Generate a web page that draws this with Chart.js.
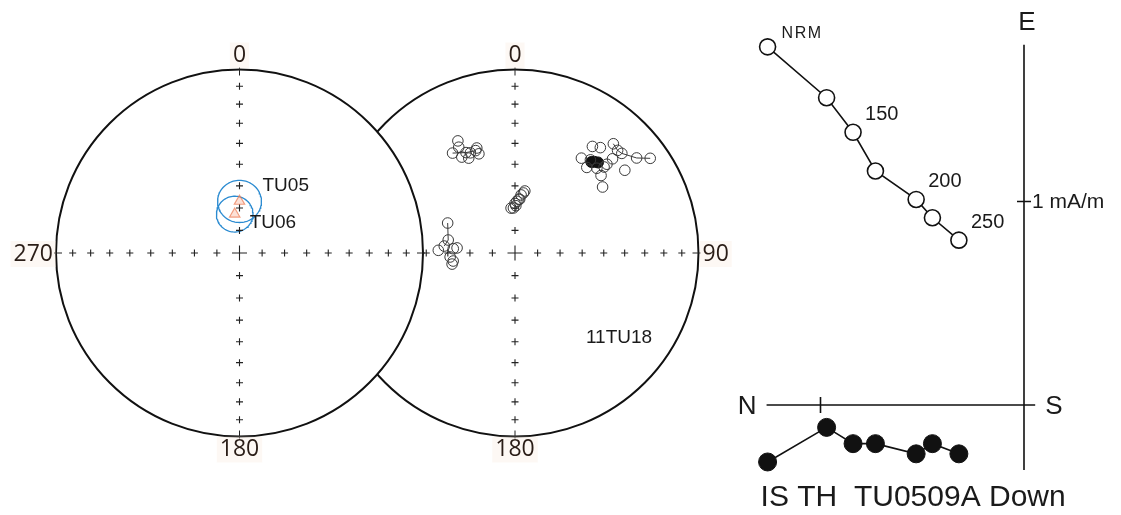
<!DOCTYPE html>
<html>
<head>
<meta charset="utf-8">
<script src="https://cdn.jsdelivr.net/npm/chart.js@4.4.1/dist/chart.umd.min.js"></script>
<style>
  html, body { margin: 0; padding: 0; background: #fff; }
  body { width: 1121px; height: 515px; position: relative; overflow: hidden; }
  .panel { position: absolute; }
  .panel canvas { display: block; }
</style>
</head>
<body>
<div class="panel" id="netB"><canvas id="cB"></canvas></div>
<div class="panel" id="netA"><canvas id="cA"></canvas></div>
<div class="panel" id="zij"><canvas id="cZ"></canvas></div>
<script>
// ---------- stereonet grid ----------
const netCardinals = ['0', '90', '180', '270'];
const netTickInc = [80, 70, 60, 50, 40, 30, 20, 10];

// ---------- site means (left net) ----------
const siteNames = ['TU05', 'TU06'];
const siteDec = [0, 353];
const siteInc = [67, 72.6];
const siteA95 = [9.5, 8];

// ---------- specimen directions (right net) ----------
// negative inclination = upper hemisphere (open symbol)
const specimenLabel = '11TU18';
const nwDec = [333, 328, 331, 336, 340, 340, 339, 334, 332, 334];
const nwInc = [-32, -36, -40, -40, -39, -42, -40, -39, -35, -42];
const ctrDec = [358, 0, 2, 4, 6, 8, 9, 1, 5, 355];
const ctrInc = [-70, -68, -67, -66, -64, -63, -62, -69, -66, -70];
const neDec = [36, 39, 42, 45, 47, 52, 55, 53, 35, 40, 48, 53, 46, 46, 39, 44, 46];
const neInc = [-29, -27, -21, -22, -21.5, -17, -11, -26, -37, -39, -37, -40, -31, -27, -35, -36, -33];
const wDec = [294, 281, 272, 274, 266.5, 262.6, 275, 275.6, 260];
const wInc = [-57, -59.6, -55.6, -62.4, -61, -62.2, -64.1, -58.2, -61.5];
const downDec = [41, 42.5, 40];
const downInc = [34.5, 33.5, 35.5];
// demagnetisation paths (indices into the cluster arrays)
const nwPath = [1, 7, 6];
const nePath = [2, 3, 4, 5, 6];
const wPath = [0, 1, 7];

// ---------- orthogonal (Zijderveld) plot, mA/m ----------
const zSteps = ['NRM', '', '150', '', '200', '', '250'];
const zNorth = [1.26, 0.97, 0.84, 0.73, 0.53, 0.45, 0.32];
const zEast = [1.76, 1.51, 1.34, 1.15, 1.01, 0.92, 0.81];
const zDown = [0.28, 0.11, 0.19, 0.19, 0.24, 0.19, 0.24];
const zScaleTick = 1;
const zScaleLabel = '1 mA/m';
const zTitle = 'IS TH  TU0509A Down';

// ---------- projection helpers ----------
const RAD = Math.PI / 180;
function equalArea(dec, inc) {
  const r = Math.SQRT2 * Math.sin((90 - Math.abs(inc)) * RAD / 2);
  return { x: r * Math.sin(dec * RAD), y: r * Math.cos(dec * RAD) };
}
// outline of the cone of confidence around a mean direction
function coneOutline(dec, inc, a95) {
  const D = dec * RAD, I = inc * RAD, A = a95 * RAD;
  const m = [Math.cos(I) * Math.cos(D), Math.cos(I) * Math.sin(D), Math.sin(I)];
  const u = [-Math.sin(I) * Math.cos(D), -Math.sin(I) * Math.sin(D), Math.cos(I)];
  const v = [-Math.sin(D), Math.cos(D), 0];
  const pts = [];
  for (let t = 0; t <= 360; t += 4) {
    const c = Math.cos(t * RAD), s = Math.sin(t * RAD);
    const p = [0, 1, 2].map(k => Math.cos(A) * m[k] + Math.sin(A) * (c * u[k] + s * v[k]));
    pts.push(equalArea(Math.atan2(p[1], p[0]) / RAD, Math.asin(p[2]) / RAD));
  }
  return pts;
}
const project = (decs, incs) => decs.map((d, i) => equalArea(d, incs[i]));
const pathOf = (decs, incs, idx) => idx.map(i => equalArea(decs[i], incs[i]));

const tickPts = [];
netCardinals.forEach((_, k) => netTickInc.forEach(inc => tickPts.push(equalArea(k * 90, inc))));

// ---------- stereonet frame plugin ----------
const netFrame = {
  id: 'netFrame',
  beforeDatasetsDraw(chart, args, o) {
    const { ctx, scales: { x, y } } = chart;
    const cx = x.getPixelForValue(0), cy = y.getPixelForValue(0);
    const R = x.getPixelForValue(1) - cx;
    ctx.save();
    ctx.beginPath();
    ctx.arc(cx, cy, R, 0, 2 * Math.PI);
    ctx.fillStyle = '#fff';
    ctx.fill();
    ctx.lineWidth = 2;
    ctx.strokeStyle = '#111';
    ctx.stroke();
    // rim ticks on the cardinal directions
    ctx.lineWidth = 1;
    ctx.strokeStyle = '#222';
    ctx.beginPath();
    netCardinals.forEach((_, k) => {
      const a = k * 90 * RAD, sx = Math.sin(a), sy = -Math.cos(a);
      ctx.moveTo(cx + sx * (R + 2), cy + sy * (R + 2));
      ctx.lineTo(cx + sx * (R - 6), cy + sy * (R - 6));
    });
    ctx.stroke();
    // cardinal labels
    ctx.font = '23px "Open Sans", sans-serif';
    ctx.textBaseline = 'middle';
    netCardinals.forEach((lab, k) => {
      if (!o.show.includes(lab)) return;
      let tx, ty, align;
      if (k === 0) { tx = cx; ty = cy - R - 14; align = 'center'; }
      else if (k === 1) { tx = cx + R + 4; ty = cy + 1; align = 'left'; }
      else if (k === 2) { tx = cx; ty = cy + R + 13; align = 'center'; }
      else { tx = cx - R - 3; ty = cy + 1; align = 'right'; }
      ctx.textAlign = align;
      const w = ctx.measureText(lab).width;
      const bx = align === 'center' ? tx - w / 2 : (align === 'left' ? tx : tx - w);
      ctx.fillStyle = 'rgba(250,232,220,0.3)';
      ctx.fillRect(bx - 3, ty - 13, w + 6, 26);
      ctx.fillStyle = '#2a1d17';
      ctx.fillText(lab, tx, ty);
    });
    ctx.restore();
  },
  afterDatasetsDraw(chart, args, o) {
    const { ctx, scales: { x, y } } = chart;
    ctx.save();
    ctx.fillStyle = '#1a1a1a';
    ctx.textBaseline = 'middle';
    ctx.textAlign = 'left';
    (o.notes || []).forEach(n => {
      ctx.font = n.font;
      ctx.textAlign = n.align || 'left';
      ctx.fillText(n.text, x.getPixelForValue(n.x) + (n.dx || 0), y.getPixelForValue(n.y) + (n.dy || 0));
    });
    ctx.restore();
  }
};

function netChart(canvasId, box, datasets, frameOpts) {
  const cv = document.getElementById(canvasId);
  cv.width = box.w;
  cv.height = box.h;
  const p = cv.parentElement.style;
  p.left = box.left + 'px'; p.top = box.top + 'px';
  p.width = box.w + 'px'; p.height = box.h + 'px';
  return new Chart(cv, {
    type: 'scatter',
    data: { datasets },
    options: {
      responsive: false, animation: false, events: [],
      layout: { padding: 0, autoPadding: false },
      scales: {
        x: { type: 'linear', display: false,
             min: (box.left - box.cx) / box.R, max: (box.left + box.w - box.cx) / box.R },
        y: { type: 'linear', display: false,
             min: (box.cy - box.top - box.h) / box.R, max: (box.cy - box.top) / box.R }
      },
      plugins: { legend: { display: false }, tooltip: { enabled: false }, netFrame: frameOpts }
    },
    plugins: [netFrame]
  });
}

const gridSets = () => [
  { data: tickPts, pointStyle: 'cross', pointRadius: 3.5, borderColor: '#222', borderWidth: 1.1, clip: false },
  { data: [{ x: 0, y: 0 }], pointStyle: 'cross', pointRadius: 7.5, borderColor: '#222', borderWidth: 1.1, clip: false }
];
const openPts = (data) => ({
  data, pointStyle: 'circle', pointRadius: 5.3, backgroundColor: 'rgba(255,255,255,0)',
  borderColor: '#3a3a3a', borderWidth: 1, clip: false
});
const pathLine = (data) => ({
  data, showLine: true, pointRadius: 0, borderColor: '#3a3a3a', borderWidth: 1, clip: false
});

// right net: specimen directions
netChart('cB', { left: 280, top: 10, w: 480, h: 480, cx: 515, cy: 253, R: 183.5 }, [
  ...gridSets(),
  pathLine(pathOf(nwDec, nwInc, nwPath)),
  pathLine(pathOf(neDec, neInc, nePath)),
  pathLine(pathOf(wDec, wInc, wPath)),
  openPts(project(nwDec, nwInc)),
  openPts(project(ctrDec, ctrInc)),
  openPts(project(neDec, neInc)),
  openPts(project(wDec, wInc)),
  { data: project(downDec, downInc), pointStyle: 'circle', pointRadius: 5.5, backgroundColor: '#111',
    borderColor: '#111', borderWidth: 1, clip: false }
], {
  show: ['0', '90', '180'],
  notes: [{ text: specimenLabel, x: 0.567, y: -0.463, align: 'center', font: '19px "Liberation Sans", Arial, sans-serif' }]
});

// left net: site means with cones of confidence
const siteMeans = project(siteDec, siteInc);
netChart('cA', { left: 0, top: 10, w: 480, h: 480, cx: 239.5, cy: 253, R: 183.5 }, [
  ...gridSets(),
  { data: siteMeans, pointStyle: 'triangle', pointRadius: 6, backgroundColor: 'rgba(246,170,140,0.35)',
    borderColor: 'rgba(236,120,80,0.7)', borderWidth: 1.2, clip: false },
  ...siteNames.map((_, i) => ({
    data: coneOutline(siteDec[i], siteInc[i], siteA95[i]), showLine: true, pointRadius: 0,
    borderColor: '#2b8bd1', borderWidth: 1.3, clip: false
  }))
], {
  show: ['0', '180', '270'],
  notes: siteNames.map((name, i) => ({
    text: name, x: siteMeans[i].x, y: siteMeans[i].y,
    dx: i === 0 ? 23 : 15, dy: i === 0 ? -15 : 9,
    font: '19px "Liberation Sans", Arial, sans-serif'
  }))
});

// ---------- orthogonal plot ----------
const zFrame = {
  id: 'zFrame',
  beforeDatasetsDraw(chart, args, o) {
    const { ctx, scales: { x, y } } = chart;
    const x0 = x.getPixelForValue(0), y0 = y.getPixelForValue(0);
    ctx.save();
    ctx.strokeStyle = '#111';
    ctx.lineWidth = 1.6;
    ctx.beginPath();
    ctx.moveTo(x0, y.getPixelForValue(o.vAxis[1]));
    ctx.lineTo(x0, y.getPixelForValue(o.vAxis[0]));
    ctx.moveTo(x.getPixelForValue(o.hAxis[0]), y0);
    ctx.lineTo(x.getPixelForValue(o.hAxis[1]), y0);
    const ty = y.getPixelForValue(zScaleTick), tx = x.getPixelForValue(-zScaleTick);
    ctx.moveTo(x0 - 7, ty); ctx.lineTo(x0 + 7, ty);
    ctx.moveTo(tx, y0 - 8); ctx.lineTo(tx, y0 + 8);
    ctx.stroke();
    ctx.restore();
  },
  afterDatasetsDraw(chart, args, o) {
    const { ctx, scales: { x, y } } = chart;
    const x0 = x.getPixelForValue(0), y0 = y.getPixelForValue(0);
    const vTop = y.getPixelForValue(o.vAxis[1]), vBot = y.getPixelForValue(o.vAxis[0]);
    const hL = x.getPixelForValue(o.hAxis[0]), hR = x.getPixelForValue(o.hAxis[1]);
    const font = s => s + 'px "Liberation Sans", Arial, sans-serif';
    ctx.save();
    ctx.fillStyle = '#1a1a1a';
    ctx.textBaseline = 'middle';
    ctx.font = font(26);
    ctx.textAlign = 'center'; ctx.fillText('E', x0 + 3, vTop - 22);
    ctx.textAlign = 'right'; ctx.fillText('N', hL - 10, y0 + 2);
    ctx.textAlign = 'left'; ctx.fillText('S', hR + 10, y0 + 2);
    ctx.font = font(21);
    ctx.fillText(zScaleLabel, x0 + 8, y.getPixelForValue(zScaleTick) + 1);
    ctx.font = font(30);
    ctx.fillText(zTitle, hL - 6, vBot + 28);
    zSteps.forEach((s, i) => {
      if (!s) return;
      const px = x.getPixelForValue(-zNorth[i]), py = y.getPixelForValue(zEast[i]);
      if (i === 0) {
        ctx.font = font(16);
        ctx.letterSpacing = '1.5px';
        ctx.fillText(s, px + 14, py - 13);
        ctx.letterSpacing = '0px';
      } else {
        ctx.font = font(20);
        ctx.fillText(s, px + 12, py - 18);
      }
    });
    ctx.restore();
  }
};

(function () {
  const box = { left: 730, top: 0, w: 391, h: 515, ox: 1024, oy: 405, unit: 203.5 };
  const cv = document.getElementById('cZ');
  cv.width = box.w; cv.height = box.h;
  const p = cv.parentElement.style;
  p.left = box.left + 'px'; p.top = box.top + 'px';
  p.width = box.w + 'px'; p.height = box.h + 'px';
  new Chart(cv, {
    type: 'scatter',
    data: {
      datasets: [
        { // horizontal projection (N-S vs E)
          data: zNorth.map((n, i) => ({ x: -n, y: zEast[i] })), showLine: true,
          borderColor: '#111', borderWidth: 1.6, pointRadius: 8,
          pointBackgroundColor: '#fff', pointBorderColor: '#111', pointBorderWidth: 1.6, clip: false
        },
        { // vertical projection (N-S vs Down)
          data: zNorth.map((n, i) => ({ x: -n, y: -zDown[i] })), showLine: true,
          borderColor: '#111', borderWidth: 1.6, pointRadius: 9,
          pointBackgroundColor: '#111', pointBorderColor: '#111', pointBorderWidth: 1, clip: false
        }
      ]
    },
    options: {
      responsive: false, animation: false, events: [],
      layout: { padding: 0, autoPadding: false },
      scales: {
        x: { type: 'linear', display: false,
             min: (box.left - box.ox) / box.unit, max: (box.left + box.w - box.ox) / box.unit },
        y: { type: 'linear', display: false,
             min: (box.oy - box.top - box.h) / box.unit, max: (box.oy - box.top) / box.unit }
      },
      plugins: {
        legend: { display: false }, tooltip: { enabled: false },
        zFrame: { vAxis: [-0.32, 1.77], hAxis: [-1.265, 0.055] }
      }
    },
    plugins: [zFrame]
  });
})();
</script>
</body>
</html>
